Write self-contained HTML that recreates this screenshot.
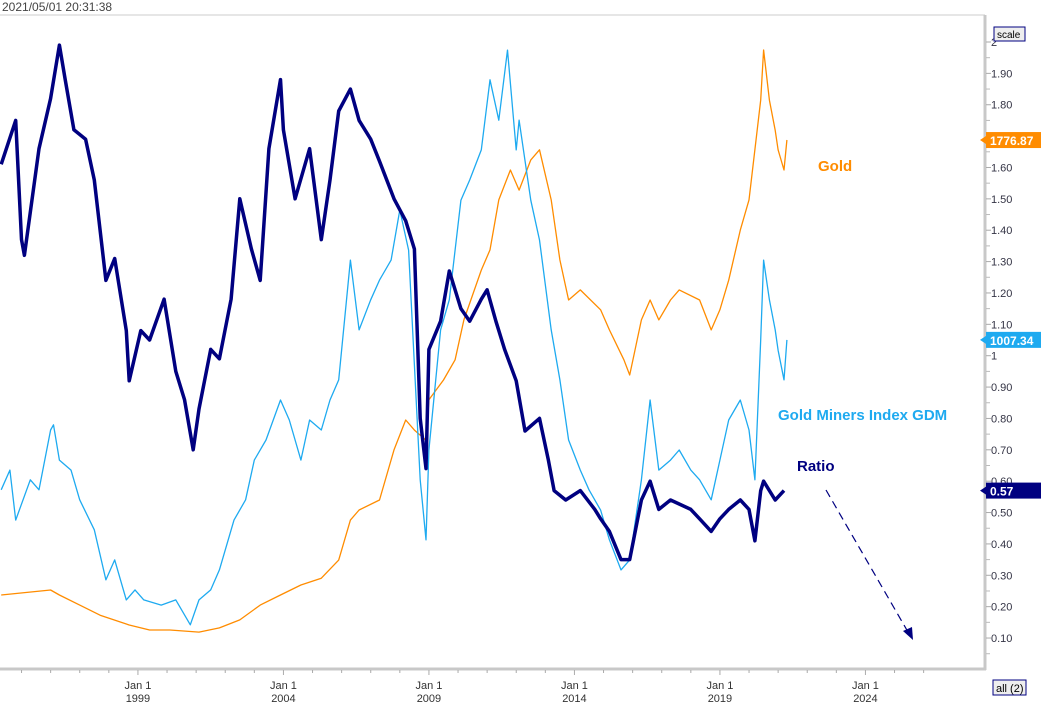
<!DOCTYPE html>
<html><head><meta charset="utf-8"><style>
body{margin:0;background:#fff;font-family:"Liberation Sans",sans-serif;}
svg{display:block}
</style></head><body>
<svg id="c" width="1041" height="707"></svg>
<script>
const ratioYears=[1994.3,1994.8,1995.0,1995.1,1995.6,1996.0,1996.3,1996.5,1996.8,1997.2,1997.5,1997.9,1998.2,1998.6,1998.7,1999.1,1999.4,1999.9,2000.3,2000.6,2000.9,2001.1,2001.5,2001.8,2002.2,2002.5,2002.9,2003.2,2003.5,2003.9,2004.0,2004.4,2004.9,2005.3,2005.6,2005.9,2006.3,2006.6,2007.0,2007.3,2007.8,2008.2,2008.5,2008.7,2008.9,2009.0,2009.4,2009.7,2010.1,2010.4,2010.8,2011.0,2011.3,2011.6,2012.0,2012.3,2012.8,2013.1,2013.3,2013.7,2014.2,2014.7,2014.9,2015.2,2015.6,2015.9,2016.3,2016.6,2016.9,2017.3,2018.0,2018.3,2018.7,2019.0,2019.3,2019.7,2020.0,2020.2,2020.4,2020.5,2020.9,2021.2];
const ratioValues=[1.61,1.75,1.37,1.32,1.66,1.82,1.99,1.88,1.72,1.69,1.56,1.24,1.31,1.08,0.92,1.08,1.05,1.18,0.95,0.86,0.70,0.83,1.02,0.99,1.18,1.50,1.34,1.24,1.66,1.88,1.72,1.50,1.66,1.37,1.56,1.78,1.85,1.75,1.69,1.62,1.50,1.43,1.34,0.80,0.64,1.02,1.11,1.27,1.15,1.11,1.18,1.21,1.11,1.02,0.92,0.76,0.80,0.67,0.57,0.54,0.57,0.51,0.48,0.44,0.35,0.35,0.54,0.60,0.51,0.54,0.51,0.48,0.44,0.48,0.51,0.54,0.51,0.41,0.57,0.60,0.54,0.57];
const goldYears=[1994.3,1996.0,1996.3,1997.0,1997.7,1998.7,1999.4,2000.1,2001.1,2001.8,2002.5,2003.2,2003.9,2004.6,2005.3,2005.9,2006.3,2006.6,2007.3,2007.8,2008.2,2008.5,2008.9,2009.0,2009.5,2009.9,2010.2,2010.8,2011.1,2011.4,2011.8,2012.1,2012.5,2012.8,2013.2,2013.5,2013.8,2014.2,2014.9,2015.2,2015.7,2015.9,2016.3,2016.6,2016.9,2017.3,2017.6,2018.3,2018.7,2019.0,2019.3,2019.7,2020.0,2020.4,2020.5,2020.7,2020.9,2021.0,2021.2,2021.3];
const goldValues=[251,268,251,217,183,150,133,133,126,140,167,217,251,285,308,369,504,538,572,741,842,808,774,910,977,1045,1180,1348,1416,1585,1686,1618,1720,1754,1585,1382,1247,1281,1214,1146,1045,994,1180,1247,1180,1247,1281,1247,1146,1214,1314,1483,1585,1922,2091,1922,1820,1754,1686,1787];
const gdmYears=[1994.3,1994.6,1994.8,1995.3,1995.6,1996.0,1996.1,1996.3,1996.7,1997.0,1997.5,1997.9,1998.2,1998.6,1998.9,1999.2,1999.8,2000.3,2000.8,2001.1,2001.5,2001.8,2002.3,2002.7,2003.0,2003.4,2003.9,2004.2,2004.6,2004.9,2005.3,2005.6,2005.9,2006.3,2006.6,2007.0,2007.3,2007.7,2008.0,2008.3,2008.7,2008.9,2009.0,2009.4,2009.7,2010.1,2010.4,2010.8,2011.1,2011.4,2011.7,2012.0,2012.1,2012.5,2012.8,2013.2,2013.5,2013.8,2014.2,2014.5,2014.9,2015.2,2015.6,2015.9,2016.3,2016.6,2016.9,2017.3,2017.6,2018.0,2018.3,2018.7,2019.0,2019.3,2019.7,2020.0,2020.2,2020.4,2020.5,2020.7,2020.9,2021.0,2021.2,2021.3];
const gdmValues=[556,617,462,587,556,741,757,648,617,525,432,277,339,215,246,215,199,215,138,215,246,308,462,525,648,710,834,772,648,772,741,834,896,1267,1051,1144,1205,1267,1422,1298,587,401,679,1051,1144,1452,1515,1608,1825,1700,1917,1608,1700,1452,1329,1051,896,710,617,556,493,401,308,339,587,834,617,648,679,617,587,525,648,772,834,741,587,1020,1267,1144,1051,988,896,1020];
const yTicks=["2","1.90","1.80","1.70","1.60","1.50","1.40","1.30","1.20","1.10","1","0.90","0.80","0.70","0.60","0.50","0.40","0.30","0.20","0.10"];
const xTickYears=[1999,2004,2009,2014,2019,2024];
const goldScale=1059, gdmScale=971;

const NS="http://www.w3.org/2000/svg";
const svg=document.getElementById('c');
const X=yr=>(yr-1994.26)*29.1;
const Y=v=>42+(2-v)*313.7;
function el(t,a,txt){const e=document.createElementNS(NS,t);for(const k in a)e.setAttribute(k,a[k]);if(txt!==undefined)e.textContent=txt;svg.appendChild(e);return e;}

let e=el('line',{x1:0,y1:15,x2:985,y2:15,stroke:'#ccc'});


e=el('line',{x1:0,y1:669,x2:986,y2:669,stroke:'#c8c8c8','stroke-width':3});


e=el('line',{x1:985,y1:15,x2:985,y2:670,stroke:'#c8c8c8','stroke-width':3});


e=el('text',{x:2,y:11,'font-size':12,fill:'#444'},'2021/05/01 20:31:38');



for(let i=0;i<yTicks.length;i++){const v=2-i*0.1;
 e=el('line',{x1:986,y1:Y(v),x2:991,y2:Y(v),stroke:'#aaa'});
 
 
 e=el('line',{x1:986,y1:Y(v-0.05),x2:990,y2:Y(v-0.05),stroke:'#bbb'});
 
 
 e=el('text',{x:991,y:Y(v)+4,'font-size':11,fill:'#334'},yTicks[i]);
 
 
}
for(let yr=1995;yr<=2026;yr++){const big=xTickYears.includes(yr);
 e=el('line',{x1:X(yr),y1:670,x2:X(yr),y2:big?675:673,stroke:'#aaa'});
 
 }
xTickYears.forEach(yr=>{
 e=el('text',{x:X(yr),y:689,'font-size':11,fill:'#333','text-anchor':'middle'},'Jan 1');
 
 
 e=el('text',{x:X(yr),y:702,'font-size':11,fill:'#333','text-anchor':'middle'},String(yr));
 
 
});
function line(ys,vs,sc,col,w,name){const p=ys.map((y,i)=>X(y).toFixed(1)+','+Y(vs[i]/sc).toFixed(1)).join(' ');
 const l=el('polyline',{points:p,fill:'none',stroke:col,'stroke-width':w,'stroke-linejoin':'round'});
 
 }
line(goldYears,goldValues,goldScale,'#ff8c00',1.3,'gold-line');
line(gdmYears,gdmValues,gdmScale,'#1eaaf0',1.3,'gdm-line');
line(ratioYears,ratioValues,1,'#000080',3.5,'ratio-line');

function badge(v,txt,col,name){const y=Y(v);
 const g=el('polygon',{points:`${980},${y} ${986},${y-4} ${986},${y+4}`,fill:col});
 
 
 const r=el('rect',{x:986,y:y-8,width:55,height:16,fill:col});
 
 
 const t=el('text',{x:990,y:y+5,'font-size':12,'font-weight':'bold',fill:'#fff'},txt);
 
 }
badge(goldValues[goldValues.length-1]/goldScale,'1776.87','#ff8c00','gold');
badge(gdmValues[gdmValues.length-1]/gdmScale,'1007.34','#1eaaf0','gdm');
badge(ratioValues[ratioValues.length-1],'0.57','#000080','ratio');

e=el('text',{x:818,y:171,'font-size':15,'font-weight':'bold',fill:'#ff8c00'},'Gold');


e=el('text',{x:778,y:420,'font-size':15,'font-weight':'bold',fill:'#1eaaf0'},'Gold Miners Index GDM');


e=el('text',{x:797,y:471,'font-size':15,'font-weight':'bold',fill:'#000080'},'Ratio');


e=el('line',{x1:826,y1:490,x2:908,y2:632,stroke:'#000080','stroke-width':1.2,'stroke-dasharray':'8,5'});


e=el('polygon',{points:'913,640 903,631 912,627',fill:'#000080'});



e=el('rect',{x:994,y:27,width:31,height:14,fill:'#eee',stroke:'#000080'});


e=el('text',{x:997,y:38,'font-size':10,fill:'#000'},'scale');


e=el('rect',{x:993,y:680,width:33,height:15,fill:'#eee',stroke:'#000080'});


e=el('text',{x:996,y:692,'font-size':11,fill:'#000'},'all (2)');


</script>
</body></html>
